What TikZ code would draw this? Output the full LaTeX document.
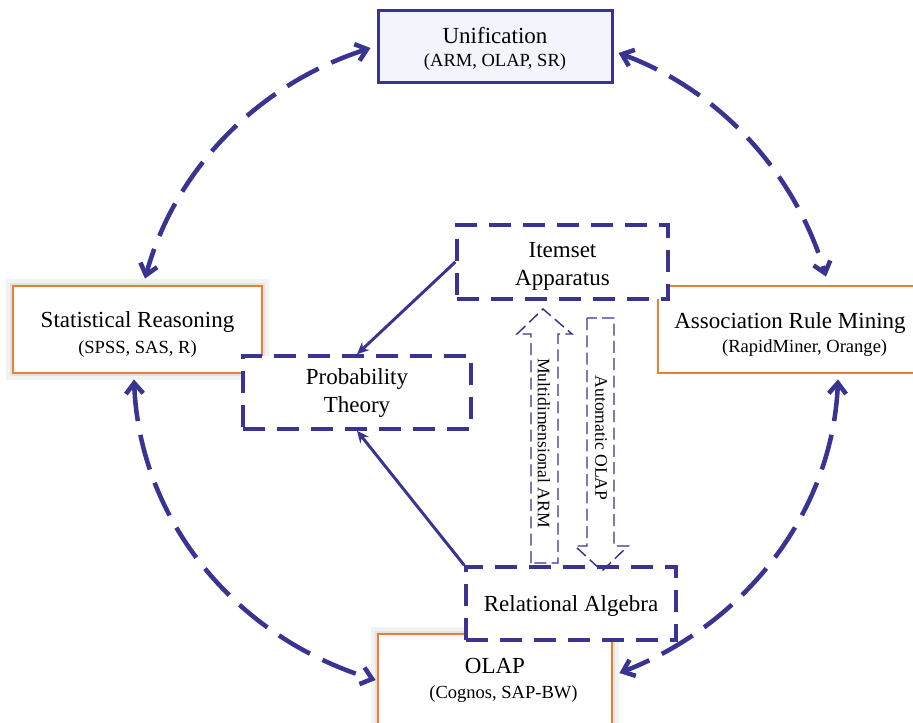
\documentclass[tikz,border=0pt]{standalone}
\usepackage{fontspec}
\setmainfont{Liberation Serif}
\usetikzlibrary{arrows.meta,calc}
\definecolor{navy}{RGB}{57,51,145}
\definecolor{orng}{RGB}{237,125,49}
\definecolor{lav}{RGB}{244,244,253}
\newcommand\titlef{\fontsize{17.25}{21}\selectfont}
\newcommand\subf{\fontsize{13.9}{18.75}\selectfont}
\newcommand\lblf{\fontsize{13.2}{16}\selectfont}
\newcommand\tstrut[1]{\rule{0pt}{#1}}
\begin{document}
\begin{tikzpicture}[x=0.75pt,y=-0.75pt,
  solidbox/.style={draw=navy, line width=2.25pt, fill=lav, align=center, inner sep=0pt, font=\titlef},
  orangebox/.style={draw=orng, line width=2.1pt, fill=white, align=center, inner sep=0pt, font=\titlef},
  shadowed/.style={preaction={draw=black!5, line width=10pt, fill=black!5}, preaction={draw=black!11, line width=5pt}},
  dashbox/.style={draw=navy, line width=2.6pt, fill=white, dash pattern=on 16.5pt off 9pt, align=center, inner sep=0pt, font=\titlef},
  curvearrow/.style={draw=navy, line width=3.4pt, dash pattern=on 27pt off 10.5pt, {Straight Barb[length=8pt,width=13pt]}-{Straight Barb[length=8pt,width=13pt]}},
  solidarrow/.style={draw=navy, line width=2.2pt, -{Stealth[length=9pt,width=8pt]}},
  hollowarrow/.style={draw=navy, line width=1.1pt, dash pattern=on 9pt off 4pt},
  rotlabel/.style={rotate=-90, font=\lblf, inner sep=0pt},
]
\useasboundingbox (0,0) rectangle (913,722);
\fill[white] (0,0) rectangle (913,722);

% main boxes
\node[solidbox, minimum width=175.5pt, minimum height=54pt] (uni) at (495,46)
  {\tstrut{16.5pt}Unification\\[-4pt]\subf (ARM, OLAP, SR)};
\node[orangebox, shadowed, minimum width=186.75pt, minimum height=65.25pt] (sr) at (137.5,329.5)
  {\tstrut{19.5pt}Statistical Reasoning\\[-1.5pt]\subf (SPSS, SAS, R)};
\node[orangebox, minimum width=198pt, minimum height=65.25pt] (arm) at (790,329.5)
  {\tstrut{20pt}Association Rule Mining\\[-3pt]\subf\hspace*{22pt}(RapidMiner, Orange)};
\node[orangebox, shadowed, minimum width=175.5pt, minimum height=69pt] (olap) at (495,680)
  {OLAP\\[-2.25pt]\subf\hspace*{12.75pt}(Cognos, SAP-BW)};

% dashed boxes
\node[dashbox, minimum width=171pt, minimum height=54.75pt] (prob) at (357,392.5)
  {Probability\\Theory};
\node[dashbox, minimum width=158.25pt, minimum height=55.5pt] (item) at (562.5,262)
  {\tstrut{18pt}Itemset\\Apparatus};
\node[dashbox, minimum width=157.5pt, minimum height=54.75pt] (rel) at (571,603.5)
  {\tstrut{15pt}Relational Algebra};

% solid arrows
\draw[solidarrow] (item.west) -- (prob.north);
\draw[solidarrow] (rel.north west) -- (prob.south);

% hollow block arrows
\draw[hollowarrow] (531,563) -- (531,334) -- (517,334) -- (543,309) -- (572,334) -- (558,334) -- (558,563) -- cycle;
\draw[hollowarrow] (587,318) -- (587,546) -- (575,546) -- (602,571) -- (628,546) -- (614,546) -- (614,318) -- cycle;
\node[rotlabel] (marm) at (544,443) {Multidimensional ARM};
\node[rotlabel] (aolap) at (601,438) {Automatic OLAP};

% curved dashed double arrows
\draw[curvearrow] ($(uni.west)+(-6,2)$) .. controls +(-113,36.5) and +(30,-109) .. ($(sr.north)+(7.5,-6)$);
\draw[curvearrow] ($(uni.east)+(5,7)$) .. controls +(104,38.6) and +(-30,-101) .. ($(arm.north)+(36,-8)$);
\draw[curvearrow] ($(sr.south)+(-3.5,5)$) .. controls +(5.7,140) and +(-141.5,-43.4) .. ($(olap.west)+(-1,0)$);
\draw[curvearrow] ($(arm.south)+(48,5)$) .. controls +(-5.3,130.5) and +(128,-50) .. ($(olap.east)+(6,-7)$);
\end{tikzpicture}
\end{document}
